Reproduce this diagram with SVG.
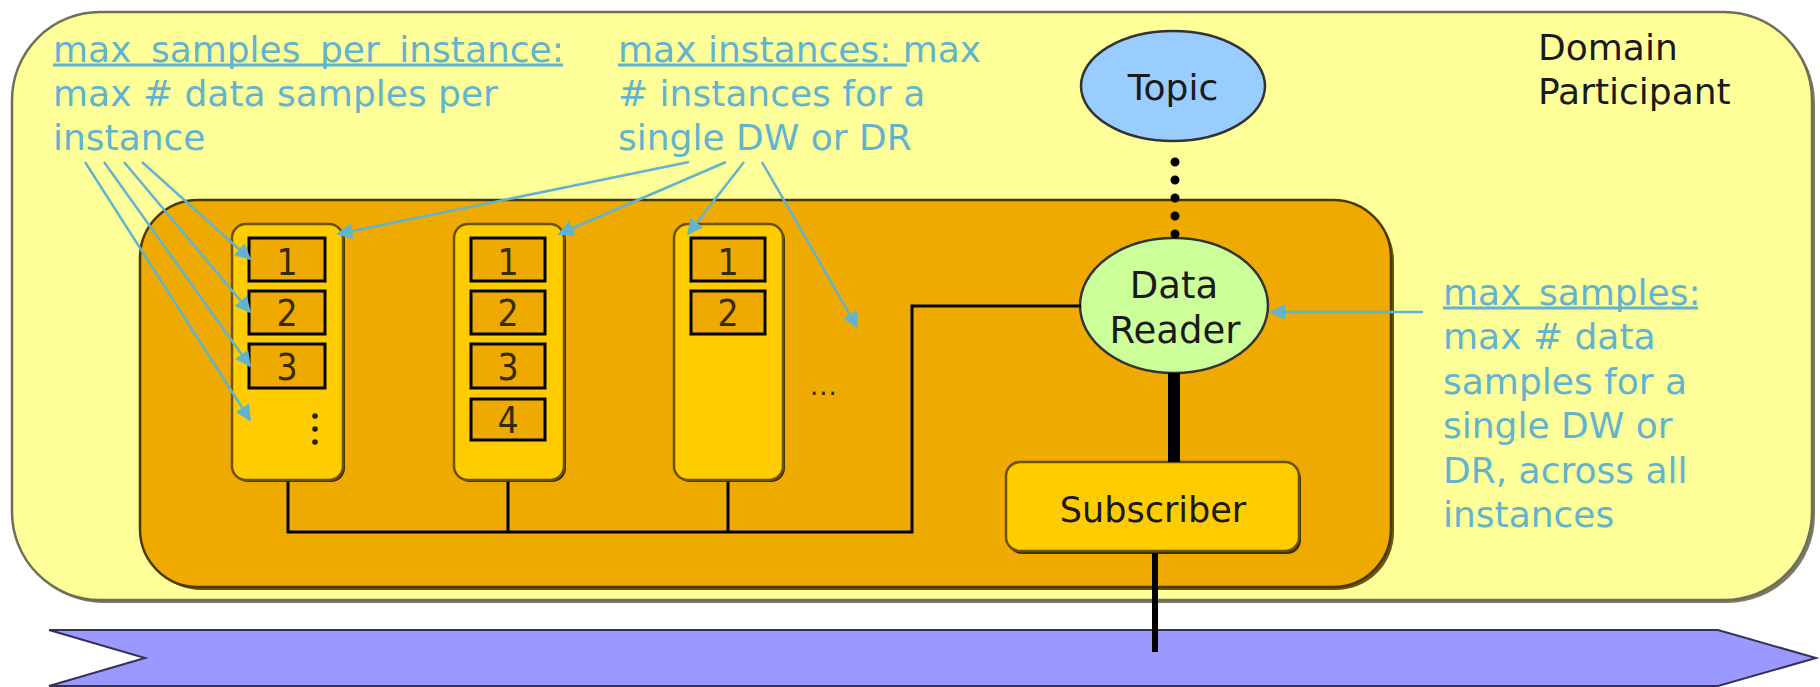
<svg xmlns="http://www.w3.org/2000/svg" width="1820" height="687" viewBox="0 0 1820 687">
  <style>
    .note { font-family: "DejaVu Sans", sans-serif; font-size: 36px; fill: #62B4CE; }
    .lbl  { font-family: "DejaVu Sans", sans-serif; fill: #1a1a1a; text-anchor: middle; }
    .plain{ font-family: "DejaVu Sans", sans-serif; font-size: 36px; fill: #1a1a1a; }
    .uline{ stroke: #62B4CE; stroke-width: 3; }
    .blue { stroke: #62B4CE; stroke-width: 2.5; fill: none; marker-end: url(#ah); }
    .wire { stroke: #000; stroke-width: 3; fill: none; }
    .col  { fill: #FFCC00; stroke: #6b5200; stroke-width: 2.5; }
    .colsh{ fill: #3a2c00; }
    .cell { fill: #EEAA00; stroke: #000; stroke-width: 3; }
    .num  { font-family: "DejaVu Sans Condensed", "DejaVu Sans", sans-serif; font-size: 37px; fill: #3a2a00; text-anchor: middle; }
  </style>
  <defs>
    <marker id="ah" viewBox="0 0 10 10" refX="9" refY="5" markerWidth="18" markerHeight="16" markerUnits="userSpaceOnUse" orient="auto">
      <path d="M0,0 L10,5 L0,10 z" fill="#62B4CE"/>
    </marker>
  </defs>

  <!-- Domain participant container -->
  <g id="domain-participant">
    <rect x="15" y="15" width="1800" height="588" rx="88" fill="#7a7a66"/>
    <rect x="12" y="12" width="1800" height="588" rx="88" fill="#FFFF99" stroke="#6f6f55" stroke-width="2.5"/>
    <text class="plain" x="1538" y="60">Domain</text>
    <text class="plain" x="1538" y="104">Participant</text>
  </g>

  <!-- Network / transport band -->
  <g id="network">
    <polygon points="49,630 1718,630 1816,658 1718,686 49,686 145,658" fill="#9999FF" stroke="#333355" stroke-width="2"/>
  </g>

  <!-- Subscriber container -->
  <g id="subscriber-area">
    <rect x="143" y="203" width="1251" height="387" rx="58" fill="#6a5410"/>
    <rect x="140" y="200" width="1251" height="387" rx="58" fill="#EEAA00" stroke="#4a3a00" stroke-width="2.5"/>
  </g>

  <!-- Instance 1 -->
  <g id="instance-1">
    <rect class="colsh" x="234" y="226" width="111" height="256" rx="14"/>
    <rect class="col" x="232" y="224" width="111" height="256" rx="14"/>
    <rect class="cell" x="249" y="238" width="76" height="43"/>
    <text class="num" x="287" y="275">1</text>
    <rect class="cell" x="249" y="291" width="76" height="43"/>
    <text class="num" x="287" y="326">2</text>
    <rect class="cell" x="249" y="344" width="76" height="44"/>
    <text class="num" x="287" y="380">3</text>
    <circle cx="315" cy="416" r="2.8" fill="#2b2000"/>
    <circle cx="315" cy="429" r="2.8" fill="#2b2000"/>
    <circle cx="315" cy="442" r="2.8" fill="#2b2000"/>
  </g>

  <!-- Instance 2 -->
  <g id="instance-2">
    <rect class="colsh" x="456" y="226" width="110" height="256" rx="14"/>
    <rect class="col" x="454" y="224" width="110" height="256" rx="14"/>
    <rect class="cell" x="471" y="238" width="74" height="43"/>
    <text class="num" x="508" y="275">1</text>
    <rect class="cell" x="471" y="291" width="74" height="43"/>
    <text class="num" x="508" y="326">2</text>
    <rect class="cell" x="471" y="344" width="74" height="44"/>
    <text class="num" x="508" y="380">3</text>
    <rect class="cell" x="471" y="399" width="74" height="41"/>
    <text class="num" x="508" y="433">4</text>
  </g>

  <!-- Instance 3 -->
  <g id="instance-3">
    <rect class="colsh" x="676" y="226" width="109" height="256" rx="14"/>
    <rect class="col" x="674" y="224" width="109" height="256" rx="14"/>
    <rect class="cell" x="691" y="238" width="74" height="43"/>
    <text class="num" x="728" y="275">1</text>
    <rect class="cell" x="691" y="291" width="74" height="43"/>
    <text class="num" x="728" y="326">2</text>
  </g>

  <!-- More instances -->
  <g id="more-instances">
    <text x="810" y="395" font-family="DejaVu Sans, sans-serif" font-size="26" fill="#3a2800" letter-spacing="1">...</text>
  </g>

  <!-- Topic -->
  <g id="topic">
    <ellipse cx="1173" cy="86" rx="92" ry="55" fill="#99CCFF" stroke="#333" stroke-width="2.5"/>
    <text class="lbl" x="1173" y="100" font-size="36">Topic</text>
  </g>

  <!-- Data reader -->
  <g id="data-reader">
    <ellipse cx="1174" cy="305.5" rx="94" ry="67.5" fill="#CCFF99" stroke="#333" stroke-width="2.5"/>
    <text class="lbl" x="1174" y="298" font-size="37">Data</text>
    <text class="lbl" x="1175" y="343" font-size="37">Reader</text>
  </g>

  <!-- Subscriber -->
  <g id="subscriber">
    <rect x="1008" y="465" width="293" height="89" rx="14" fill="#3a2c00"/>
    <rect x="1006" y="462" width="293" height="89" rx="14" fill="#FFCC00" stroke="#6b5200" stroke-width="2.5"/>
    <text class="lbl" x="1153" y="522" font-size="35">Subscriber</text>
  </g>

  <!-- Connectors -->
  <g id="connectors">
    <!-- instance columns to the data reader -->
    <polyline class="wire" points="288,482 288,532 912,532 912,306 1081,306"/>
    <line class="wire" x1="508" y1="482" x2="508" y2="532"/>
    <line class="wire" x1="728" y1="482" x2="728" y2="532"/>
    <!-- topic to data reader -->
    <line x1="1175" y1="162" x2="1175" y2="236" stroke="#000" stroke-width="9" stroke-linecap="round" stroke-dasharray="0 18"/>
    <!-- data reader to subscriber -->
    <line x1="1174" y1="373" x2="1174" y2="462" stroke="#000" stroke-width="12"/>
    <!-- subscriber to network -->
    <line x1="1155" y1="553" x2="1155" y2="652" stroke="#000" stroke-width="6"/>
    <!-- annotation arrows -->
    <line class="blue" x1="142" y1="162" x2="250" y2="259"/>
    <line class="blue" x1="124" y1="162" x2="250" y2="312"/>
    <line class="blue" x1="104" y1="162" x2="250" y2="366"/>
    <line class="blue" x1="85" y1="162" x2="250" y2="420"/>
    <line class="blue" x1="689" y1="162" x2="338" y2="234"/>
    <line class="blue" x1="726" y1="162" x2="559" y2="234"/>
    <line class="blue" x1="744" y1="162" x2="688" y2="234"/>
    <line class="blue" x1="762" y1="162" x2="857" y2="327"/>
    <line class="blue" x1="1423" y1="312" x2="1271" y2="312"/>
  </g>

  <!-- Annotations -->
  <g id="note-max-samples-per-instance">
    <text class="note" x="53" y="62" word-spacing="8">max samples per instance:</text>
    <line class="uline" x1="53" y1="65" x2="563" y2="65"/>
    <text class="note" x="53" y="106">max # data samples per</text>
    <text class="note" x="53" y="150">instance</text>
  </g>
  <g id="note-max-instances">
    <text class="note" x="618" y="62">max instances: max</text>
    <line class="uline" x1="618" y1="65" x2="907" y2="65"/>
    <text class="note" x="618" y="106"># instances for a</text>
    <text class="note" x="618" y="150">single DW or DR</text>
  </g>
  <g id="note-max-samples">
    <text class="note" x="1443" y="305" word-spacing="6">max samples:</text>
    <line class="uline" x1="1443" y1="308" x2="1698" y2="308"/>
    <text class="note" x="1443" y="349">max # data</text>
    <text class="note" x="1443" y="394">samples for a</text>
    <text class="note" x="1443" y="438">single DW or</text>
    <text class="note" x="1443" y="483">DR, across all</text>
    <text class="note" x="1443" y="527">instances</text>
  </g>
</svg>
